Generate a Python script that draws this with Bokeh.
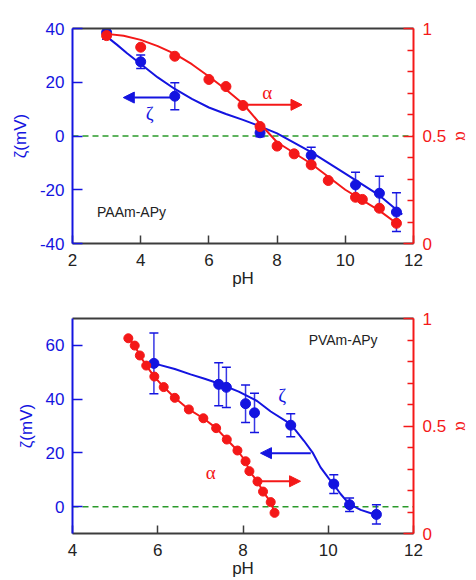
from bokeh.plotting import figure
from bokeh.models import (Range1d, LinearAxis, FixedTicker, Whisker, ColumnDataSource,
                          Span, Arrow, NormalHead, TeeHead, Label)
from bokeh.layouts import column
from bokeh.embed import file_html
from bokeh.resources import INLINE

BLUE = "#1414e0"
RED = "#f41818"
GREEN = "#2a9a2a"
DARK = "#3c3c3c"
FONT = "Liberation Sans"
GFONT = "Liberation Serif"

# ---------------- top panel (PAAm-APy) ----------------
a_ph_z = [3, 4, 5, 7.5, 9, 10.3, 11, 11.5]
a_zeta = [38.5, 27.6, 14.8, 1.2, -7.2, -18.2, -21.3, -28.3]
a_zerr = [2.5, 2.5, 5.0, 1.5, 3.0, 4.7, 6.3, 7.2]
a_ph_alpha = [3, 4, 5, 6, 6.5, 7, 7.5, 8, 8.5, 9, 9.5, 10.3, 10.5, 11, 11.5]
a_alpha = [0.967, 0.913, 0.871, 0.763, 0.730, 0.642, 0.544, 0.453, 0.417,
           0.366, 0.293, 0.215, 0.205, 0.164, 0.094]
a_fit_z_ph = [3.05, 3.3, 3.6, 4.0, 4.5, 5.0, 5.5, 6.0, 6.5, 7.0, 7.5, 8.0, 9.0, 10.0, 11.0, 11.67]
a_fit_z = [36.5, 34.0, 30.8, 26.8, 21.8, 17.5, 13.8, 10.6, 8.2, 6.0, 3.6, 1.0, -6.0, -14.0, -22.1, -29.2]
a_fit_a_ph = [3.0, 3.5, 4.0, 4.5, 5.0, 5.5, 6.0, 6.5, 7.0, 7.5, 8.0, 9.0, 10.0, 11.0, 11.5]
a_fit_a = [0.975, 0.966, 0.947, 0.918, 0.882, 0.834, 0.777, 0.716, 0.650, 0.557, 0.471,
           0.371, 0.250, 0.153, 0.094]

# ---------------- bottom panel (PVAm-APy) ----------------
b_ph_z = [5.91, 7.43, 7.61, 8.06, 8.27, 9.12, 10.13, 10.5, 11.13]
b_zeta = [53.3, 45.5, 44.4, 38.3, 34.9, 30.3, 8.4, 0.7, -2.9]
b_zerr = [11.3, 8.0, 7.5, 7.0, 7.3, 4.3, 3.5, 2.5, 3.6]
b_ph_alpha = [5.31, 5.46, 5.58, 5.73, 5.92, 6.14, 6.40, 6.73, 7.07, 7.37, 7.62,
              7.87, 8.06, 8.15, 8.34, 8.47, 8.65, 8.74]
b_alpha = [0.908, 0.874, 0.828, 0.781, 0.730, 0.681, 0.631, 0.577, 0.536, 0.490,
           0.437, 0.386, 0.336, 0.290, 0.242, 0.195, 0.146, 0.096]
b_fit_z_ph = [5.91, 6.4, 6.77, 7.1, 7.43, 7.9, 8.33, 8.65, 9.12, 9.43, 9.63, 9.82,
              10.02, 10.13, 10.29, 10.49, 10.76, 11.11, 11.2]
b_fit_z = [53.3, 51.2, 49.2, 47.6, 45.8, 42.8, 39.3, 35.4, 30.7, 24.5, 20.2, 14.6,
           10.3, 8.2, 4.7, 1.0, -1.2, -3.0, -3.2]

x_ticks_a = [2, 4, 6, 8, 10, 12]
y_ticks_a = [-40, -20, 0, 20, 40]
x_ticks_b = [4, 6, 8, 10, 12]
y_ticks_b = [0, 20, 40, 60]
alpha_ticks = [0, 0.5, 1]
alpha_minor = [0.1, 0.2, 0.3, 0.4, 0.6, 0.7, 0.8, 0.9]


def make_panel(xr, yr, xt, yt, height, bt, bb):
    p = figure(width=476, height=height, x_range=Range1d(*xr), y_range=Range1d(*yr),
               output_backend="svg", toolbar_location=None,
               min_border_left=72, min_border_right=63, min_border_top=bt,
               min_border_bottom=bb)
    p.outline_line_color = None
    p.grid.visible = False
    p.background_fill_color = "white"
    p.extra_y_ranges = {"a": Range1d(0, 1)}

    xa = p.xaxis[0]
    xa.ticker = FixedTicker(ticks=xt)
    xa.axis_line_color = DARK
    xa.axis_line_width = 2
    xa.major_tick_line_color = DARK
    xa.major_tick_line_width = 1.5
    xa.major_tick_in = 8
    xa.major_tick_out = 0
    xa.minor_tick_line_color = None
    xa.major_label_text_font = FONT
    xa.major_label_text_font_size = "17px"
    xa.major_label_text_color = "#222222"
    xa.major_label_standoff = 10
    xa.axis_label = "pH"
    xa.axis_label_text_font = FONT
    xa.axis_label_text_font_size = "17px"
    xa.axis_label_text_font_style = "normal"
    xa.axis_label_text_color = "#222222"
    xa.axis_label_standoff = 0

    ya = p.yaxis[0]
    ya.ticker = FixedTicker(ticks=yt)
    ya.major_label_overrides = {t: str(t) for t in yt}
    ya.axis_line_color = BLUE
    ya.axis_line_width = 2
    ya.major_tick_line_color = BLUE
    ya.major_tick_line_width = 1.5
    ya.major_tick_in = 10
    ya.major_tick_out = 0
    ya.minor_tick_line_color = None
    ya.major_label_text_font = FONT
    ya.major_label_text_font_size = "17px"
    ya.major_label_text_color = BLUE
    ya.major_label_standoff = 8
    ya.axis_label = "ζ(mV)"
    ya.axis_label_text_font = FONT
    ya.axis_label_text_font_size = "17px"
    ya.axis_label_text_font_style = "normal"
    ya.axis_label_text_color = BLUE
    ya.axis_label_standoff = 7

    ra = LinearAxis(y_range_name="a",
                    ticker=FixedTicker(ticks=alpha_ticks, minor_ticks=alpha_minor))
    ra.major_label_overrides = {0: "0", 0.5: "0.5", 1: "1"}
    ra.axis_line_color = RED
    ra.axis_line_width = 2
    ra.major_tick_line_color = RED
    ra.major_tick_line_width = 1.5
    ra.major_tick_in = 10
    ra.major_tick_out = 0
    ra.minor_tick_line_color = RED
    ra.minor_tick_line_width = 1.5
    ra.minor_tick_in = 6
    ra.minor_tick_out = 0
    ra.major_label_text_font = FONT
    ra.major_label_text_font_size = "17px"
    ra.major_label_text_color = RED
    ra.major_label_standoff = 9
    ra.axis_label = "α"
    ra.axis_label_text_font = GFONT
    ra.axis_label_text_font_size = "18px"
    ra.axis_label_text_font_style = "normal"
    ra.axis_label_text_color = RED
    ra.axis_label_standoff = 3
    p.add_layout(ra, "right")

    ta = LinearAxis(ticker=FixedTicker(ticks=[]))
    ta.axis_line_color = DARK
    ta.axis_line_width = 2
    ta.major_tick_line_color = None
    ta.minor_tick_line_color = None
    ta.major_label_text_font_size = "0px"
    p.add_layout(ta, "above")

    p.add_layout(Span(location=0, dimension="width", line_color=GREEN,
                      line_dash="6 4", line_width=1.5, level="underlay"))
    return p


def draw_data(p, zx, zy, ze, fzx, fzy, ax, ay, msz_b, msz_r, red_line):
    p.line(fzx, fzy, line_color=BLUE, line_width=2)
    src = ColumnDataSource(dict(x=zx, up=[v + e for v, e in zip(zy, ze)],
                                lo=[v - e for v, e in zip(zy, ze)]))
    p.add_layout(Whisker(source=src, base="x", upper="up", lower="lo",
                         line_color=BLUE, line_width=1.5, line_alpha=0.85,
                         upper_head=TeeHead(size=9, line_color=BLUE, line_width=1.5),
                         lower_head=TeeHead(size=9, line_color=BLUE, line_width=1.5)))
    p.scatter(zx, zy, size=msz_b, fill_color=BLUE, line_color=BLUE)
    p.line(red_line[0], red_line[1], line_color=RED, line_width=2, y_range_name="a")
    p.scatter(ax, ay, size=msz_r, fill_color=RED, line_color=RED, y_range_name="a")


# ---- top
p1 = make_panel((2, 12), (-40, 40), x_ticks_a, y_ticks_a, 290, 28, 47)
draw_data(p1, a_ph_z, a_zeta, a_zerr, a_fit_z_ph, a_fit_z, a_ph_alpha, a_alpha,
          10, 10, (a_fit_a_ph, a_fit_a))
p1.add_layout(Arrow(x_start=4.89, y_start=14.3, x_end=3.49, y_end=14.3,
                    line_color=BLUE, line_width=2,
                    end=NormalHead(size=11, fill_color=BLUE, line_color=BLUE)))
p1.add_layout(Arrow(x_start=7.0, y_start=0.645, x_end=8.73, y_end=0.645,
                    line_color=RED, line_width=2, y_range_name="a",
                    end=NormalHead(size=11, fill_color=RED, line_color=RED)))
p1.add_layout(Label(x=4.26, y=8.3, text="ζ", text_font=GFONT, text_font_size="19px",
                    text_color=BLUE, text_align="center", text_baseline="middle"))
p1.add_layout(Label(x=7.71, y=0.704, y_range_name="a", text="α", text_font=GFONT,
                    text_font_size="19px", text_color=RED, text_align="center",
                    text_baseline="middle"))
p1.add_layout(Label(x=2.72, y=-28.3, text="PAAm-APy", text_font=FONT,
                    text_font_size="14px", text_color="#222222", text_align="left",
                    text_baseline="middle"))

# ---- bottom
p2 = make_panel((4, 12), (-10, 70), x_ticks_b, y_ticks_b, 290, 28, 47)
draw_data(p2, b_ph_z, b_zeta, b_zerr, b_fit_z_ph, b_fit_z, b_ph_alpha, b_alpha,
          10, 9, (b_ph_alpha, b_alpha))
p2.add_layout(Arrow(x_start=9.59, y_start=19.9, x_end=8.41, y_end=19.9,
                    line_color=BLUE, line_width=2,
                    end=NormalHead(size=11, fill_color=BLUE, line_color=BLUE)))
p2.add_layout(Arrow(x_start=8.37, y_start=0.243, x_end=9.35, y_end=0.243,
                    line_color=RED, line_width=2, y_range_name="a",
                    end=NormalHead(size=11, fill_color=RED, line_color=RED)))
p2.add_layout(Label(x=8.92, y=41.2, text="ζ", text_font=GFONT, text_font_size="19px",
                    text_color=BLUE, text_align="center", text_baseline="middle"))
p2.add_layout(Label(x=7.24, y=0.285, y_range_name="a", text="α", text_font=GFONT,
                    text_font_size="19px", text_color=RED, text_align="center",
                    text_baseline="middle"))
p2.add_layout(Label(x=9.54, y=61.9, text="PVAm-APy", text_font=FONT,
                    text_font_size="14px", text_color="#222222", text_align="left",
                    text_baseline="middle"))

layout = column(p1, p2, spacing=0)
open("out.html", "w").write(file_html(layout, INLINE))
